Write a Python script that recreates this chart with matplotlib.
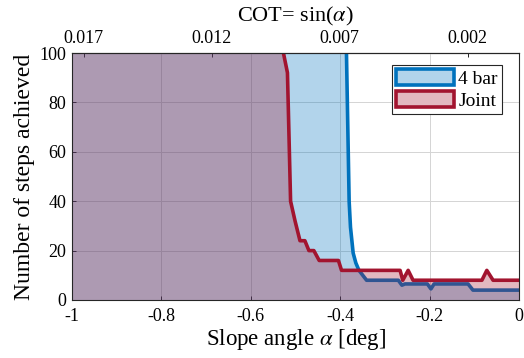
import numpy as np
import matplotlib
matplotlib.use("Agg")
import matplotlib.pyplot as plt
from matplotlib.patches import Patch

# ---- data ----
bar4_x = [-1.0, -0.386, -0.380, -0.377, -0.371, -0.365, -0.358, -0.341, -0.270,
          -0.262, -0.255, -0.205, -0.197, -0.190, -0.114, -0.103, 0.0]
bar4_y = [100, 100, 40, 29.5, 19, 15, 12, 8, 8,
          6, 6.5, 6.5, 4.5, 6.5, 6.5, 4, 4]

joint_x = [-1.0, -0.527, -0.518, -0.511, -0.501, -0.490, -0.479, -0.470, -0.459,
           -0.447, -0.404, -0.397, -0.266, -0.260, -0.248, -0.237, -0.083,
           -0.072, -0.058, 0.0]
joint_y = [100, 100, 92, 40, 32, 24, 24, 20, 20,
           16, 16, 12, 12, 8, 12, 8, 8,
           12, 8, 8]

x_ticks = [-1, -0.8, -0.6, -0.4, -0.2, 0]
x_ticklabels = ["-1", "-0.8", "-0.6", "-0.4", "-0.2", "0"]
y_ticks = [0, 20, 40, 60, 80, 100]
cot_ticks = [0.017, 0.012, 0.007, 0.002]
cot_ticklabels = ["0.017", "0.012", "0.007", "0.002"]

series_names = ["4 bar", "Joint"]
blue = "#0072BD"
red = "#A2142F"

plt.rcParams["font.family"] = ["Liberation Serif", "DejaVu Serif"]
plt.rcParams["mathtext.fontset"] = "stix"
plt.rcParams["axes.unicode_minus"] = False

fig = plt.figure(figsize=(5.24, 3.58), dpi=100)
ax = fig.add_axes([72/524, 1-300/358, (519-72)/524, (300-53)/358])


def line_part(xs, ys):
    # the plateau at the top limit sits under the axes box; draw the line from
    # the last plateau point onward
    i = max(k for k, v in enumerate(ys) if v >= 100)
    return xs[i:], ys[i:]


ax.fill_between(bar4_x, 0, bar4_y, color=blue, alpha=0.3, linewidth=0, zorder=2)
bx, by = line_part(bar4_x, bar4_y)
ax.plot(bx, by, color=blue, lw=2.6, zorder=3)
ax.fill_between(joint_x, 0, joint_y, color=red, alpha=0.3, linewidth=0, zorder=4)
jx, jy = line_part(joint_x, joint_y)
ax.plot(jx, jy, color=red, lw=2.6, zorder=5)

ax.set_xlim(-1, 0)
ax.set_ylim(0, 100)
ax.set_xticks(x_ticks)
ax.set_xticklabels(x_ticklabels)
ax.set_yticks(y_ticks)
ax.tick_params(axis="x", direction="in", labelsize=13, length=3, width=0.6, pad=6)
ax.tick_params(axis="y", direction="in", labelsize=13, length=3, width=0.6, pad=4)
ax.grid(True, color="#d4d4d4", lw=0.7, zorder=1)
ax.set_axisbelow(True)
for s in ax.spines.values():
    s.set_linewidth(0.8)
    s.set_color("#262626")
    s.set_zorder(8)

ax.set_xlabel(r"Slope angle $\alpha$ [deg]", fontsize=16.5, labelpad=1)
ax.set_ylabel("Number of steps achieved", fontsize=17, labelpad=3)

fwd = lambda a: -np.sin(np.radians(np.asarray(a, dtype=float)))
inv = lambda c: -np.degrees(np.arcsin(np.clip(np.asarray(c, dtype=float), -1, 1)))
sec = ax.secondary_xaxis("top", functions=(fwd, inv))
sec.set_xticks(cot_ticks)
sec.set_xticklabels(cot_ticklabels)
sec.tick_params(direction="in", labelsize=13, length=3, width=0.6, pad=4)
fig.text((72 + 519) / 2 / 524, 1 - 16 / 358, r"COT= sin($\alpha$)", fontsize=16,
         ha="center", va="center")

handles = [Patch(facecolor=(0, 0.447, 0.741, 0.3), edgecolor=blue, lw=2.6),
           Patch(facecolor=(0.635, 0.078, 0.184, 0.3), edgecolor=red, lw=2.6)]
leg = ax.legend(handles, series_names, loc="upper right", bbox_to_anchor=(0.961, 0.95),
                fontsize=14, fancybox=False, framealpha=1, edgecolor="#262626",
                handlelength=3.0, handleheight=0.9, handletextpad=0.2,
                borderpad=0.2, labelspacing=0.15, borderaxespad=0)
leg.get_frame().set_linewidth(0.8)
leg.set_zorder(10)

fig.savefig("out.png", dpi=100)
